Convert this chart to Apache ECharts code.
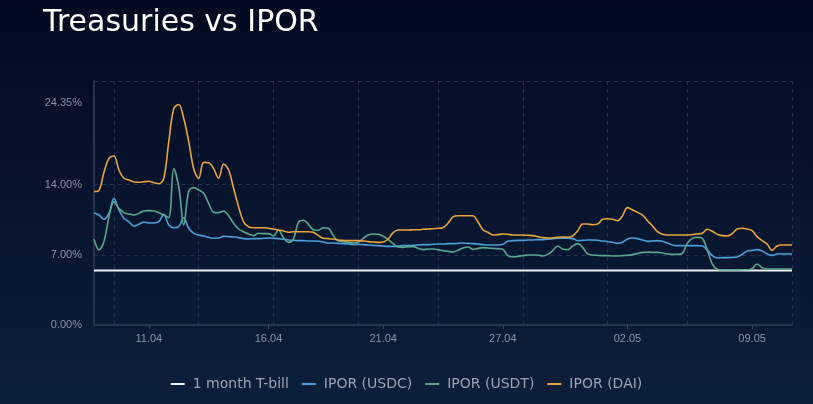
<!DOCTYPE html>
<html><head><meta charset="utf-8">
<script src="https://cdn.jsdelivr.net/npm/echarts@6/dist/echarts.min.js"></script>
<style>html,body{margin:0;padding:0;background:#061230;} #c{width:813px;height:404px;}</style>
</head><body><div id="c"></div>
<script>
const seriesNames = ['1 month T-bill', 'IPOR (USDC)', 'IPOR (USDT)', 'IPOR (DAI)'];
const tickLabels = ['11.04', '16.04', '21.04', '27.04', '02.05', '09.05'];
const tickLabelIndex = [11, 35, 58, 82, 107, 132];
const gridLineIndex = [4, 21, 36, 53, 69, 86, 103, 119, 140];
const yTicks = [0, 7, 14, 24.35];

const tbill = [
5.43,5.43,5.43,5.43,5.43,5.43,5.43,5.43,5.43,5.43,5.43,5.43,5.43,5.43,5.43,5.43,5.43,5.43,5.43,5.43,
5.43,5.43,5.43,5.43,5.43,5.43,5.43,5.43,5.43,5.43,5.43,5.43,5.43,5.43,5.43,5.43,5.43,5.43,5.43,5.43,
5.43,5.43,5.43,5.43,5.43,5.43,5.43,5.43,5.43,5.43,5.43,5.43,5.43,5.43,5.43,5.43,5.43,5.43,5.43,5.43,
5.43,5.43,5.43,5.43,5.43,5.43,5.43,5.43,5.43,5.43,5.43,5.43,5.43,5.43,5.43,5.43,5.43,5.43,5.43,5.43,
5.43,5.43,5.43,5.43,5.43,5.43,5.43,5.43,5.43,5.43,5.43,5.43,5.43,5.43,5.43,5.43,5.43,5.43,5.43,5.43,
5.43,5.43,5.43,5.43,5.43,5.43,5.43,5.43,5.43,5.43,5.43,5.43,5.43,5.43,5.43,5.43,5.43,5.43,5.43,5.43,
5.43,5.43,5.43,5.43,5.43,5.43,5.43,5.43,5.43,5.43,5.43,5.43,5.43,5.43,5.43,5.43,5.43,5.43,5.43,5.43,5.43];

const usdc = [
11.21,10.98,10.55,11.14,12.64,11.48,10.65,10.31,9.85,10.05,10.28,10.18,10.18,10.31,11.04,9.98,9.71,9.81,10.71,9.65,
9.15,8.98,8.88,8.75,8.65,8.68,8.85,8.82,8.78,8.72,8.62,8.58,8.62,8.62,8.65,8.68,8.65,8.62,8.55,8.48,
8.45,8.42,8.42,8.38,8.38,8.35,8.28,8.18,8.18,8.15,8.12,8.08,8.05,8.05,8.02,7.98,7.95,7.92,7.88,7.85,
7.85,7.88,7.92,7.92,7.95,7.98,8.02,8.02,8.05,8.08,8.08,8.12,8.12,8.15,8.18,8.15,8.12,8.08,8.02,7.98,
7.98,7.98,8.05,8.35,8.42,8.45,8.45,8.48,8.48,8.52,8.52,8.55,8.62,8.65,8.65,8.65,8.62,8.42,8.45,8.48,
8.48,8.45,8.38,8.32,8.25,8.15,8.25,8.58,8.68,8.62,8.48,8.35,8.38,8.42,8.35,8.18,7.98,7.92,7.92,7.92,
7.92,7.92,7.88,7.49,6.92,6.69,6.72,6.72,6.75,6.79,7.05,7.39,7.45,7.52,7.39,7.09,6.95,7.09,7.09,7.09,7.09];

const usdt = [
8.58,7.49,8.32,10.81,12.31,11.64,11.21,11.08,10.98,11.14,11.38,11.41,11.38,11.21,10.98,10.71,15.6,13.8,9.98,13.37,
13.71,13.47,13.14,12.14,11.24,11.21,11.38,10.91,10.15,9.58,9.31,9.08,8.92,9.15,9.12,9.12,8.88,9.48,8.72,8.25,
8.58,10.25,10.45,10.05,9.51,9.45,9.71,9.65,8.92,8.38,8.32,8.25,8.18,8.25,8.65,8.98,9.08,9.05,8.85,8.52,
8.12,7.78,7.75,7.82,7.82,7.65,7.52,7.58,7.58,7.52,7.42,7.35,7.29,7.45,7.68,7.78,7.55,7.65,7.72,7.68,
7.65,7.62,7.55,6.92,6.79,6.85,6.92,6.99,6.99,6.99,6.89,7.05,7.42,7.88,7.58,7.52,7.88,8.12,7.75,7.09,
6.99,6.95,6.92,6.92,6.89,6.89,6.92,6.95,7.02,7.12,7.25,7.29,7.25,7.25,7.19,7.09,7.05,7.05,7.15,8.15,
8.65,8.75,8.65,7.49,6.09,5.56,5.49,5.49,5.49,5.49,5.52,5.52,5.62,6.09,5.72,5.59,5.59,5.59,5.59,5.59,5.59];

const dai = [
13.31,13.44,15.24,16.63,16.87,15.47,14.64,14.47,14.27,14.24,14.30,14.34,14.20,14.10,14.64,18.30,21.60,22.00,20.60,18.30,
15.60,14.64,16.23,16.20,15.60,14.64,16.07,15.47,13.64,11.80,10.30,9.81,9.71,9.71,9.71,9.65,9.58,9.48,9.38,9.25,
9.31,9.31,9.31,9.31,9.25,8.92,8.65,8.62,8.58,8.48,8.45,8.42,8.42,8.42,8.38,8.32,8.28,8.25,8.28,8.58,
9.21,9.48,9.48,9.48,9.51,9.51,9.55,9.58,9.61,9.65,9.71,10.15,10.78,10.91,10.91,10.91,10.91,10.31,9.51,9.25,
8.98,9.02,9.08,9.05,8.98,8.98,8.98,8.95,8.92,8.82,8.72,8.68,8.68,8.75,8.78,8.75,8.88,9.38,10.08,10.08,
10.01,10.08,10.55,10.61,10.55,10.40,10.91,11.71,11.48,11.24,10.98,10.41,9.91,9.31,9.05,8.98,8.98,8.98,8.98,8.98,
9.02,9.08,9.15,9.55,9.35,9.05,8.92,8.88,9.12,9.58,9.65,9.58,9.41,8.82,8.42,8.08,7.45,7.88,7.98,7.98,7.98];

const colors = ['#f2f4f7', '#4d9fd9', '#5aa88c', '#e9a53c'];
const categories = tbill.map((_, i) => String(i));
const labelMap = {};
tickLabelIndex.forEach((idx, k) => { labelMap[idx] = tickLabels[k]; });

const chart = echarts.init(document.getElementById('c'), null, {renderer: 'canvas'});
const axisColor = '#27324c';
const gridColor = '#263150';
const labelColor = '#8a93a6';

const allData = [tbill, usdc, usdt, dai];
const option = {
  backgroundColor: new echarts.graphic.LinearGradient(0, 0, 0, 1, [
    {offset: 0, color: '#030a21'},
    {offset: 1, color: '#0c1f3b'}
  ]),
  animation: false,
  title: {
    text: 'Treasuries vs IPOR',
    left: 38, top: 3,
    textStyle: {color: '#ffffff', fontSize: 30, fontWeight: 'normal', fontFamily: 'DejaVu Sans'}
  },
  legend: {
    bottom: 8, left: 'center',
    icon: 'rect', itemWidth: 14, itemHeight: 2, itemGap: 13,
    textStyle: {color: '#9ba3b3', fontSize: 14, fontFamily: 'DejaVu Sans', padding: [0, 0, 0, 3]},
    data: seriesNames
  },
  grid: {left: 94, right: 21, top: 81, bottom: 79, containLabel: false},
  xAxis: {
    type: 'category',
    boundaryGap: false,
    data: categories,
    axisLine: {show: true, lineStyle: {color: axisColor, width: 2}},
    axisTick: {show: true, interval: (i) => labelMap[i] !== undefined, length: 4, lineStyle: {color: '#3a4660'}},
    axisLabel: {
      interval: (i) => labelMap[i] !== undefined,
      formatter: (v, i) => labelMap[i] || '',
      color: labelColor, fontSize: 11, fontFamily: 'Liberation Sans', margin: 8
    },
    splitLine: {show: true, interval: (i) => gridLineIndex.includes(i),
      lineStyle: {color: gridColor, type: [4, 4], width: 1}}
  },
  yAxis: {
    type: 'value', min: 0, max: 24.35,
    axisLine: {show: true, lineStyle: {color: axisColor, width: 2}},
    axisTick: {show: false, customValues: yTicks},
    axisLabel: {
      customValues: yTicks,
      color: labelColor, fontSize: 11, fontFamily: 'Liberation Sans', margin: 12,
      formatter: (v) => v >= 24 ? '{t|' + v.toFixed(2) + '%}' : v.toFixed(2) + '%',
      rich: {t: {color: labelColor, fontSize: 11, fontFamily: 'Liberation Sans', padding: [43, 0, 0, 0]}}
    },
    splitLine: {show: true, lineStyle: {color: gridColor, type: [4, 4], width: 1}}
  },
  series: seriesNames.map((name, k) => ({
    name: name,
    type: 'line',
    data: allData[k],
    smooth: 0.35,
    showSymbol: false,
    symbol: 'none',
    itemStyle: {color: colors[k]},
    lineStyle: {color: colors[k], width: k === 0 ? 2 : 1.6}
  }))
};
chart.setOption(option);
</script>
</body></html>
